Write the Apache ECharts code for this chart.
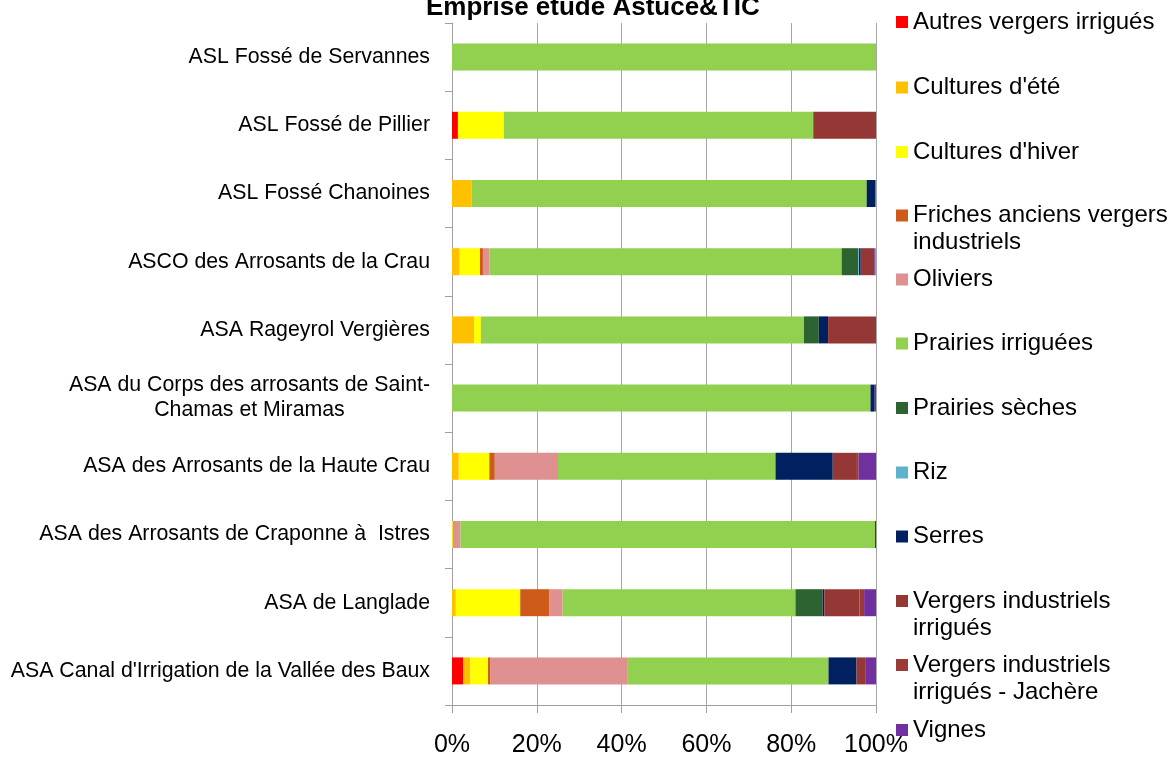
<!DOCTYPE html>
<html lang="fr">

<head>
    <meta charset="UTF-8">
    <title>Emprise étude Astuce&amp;TIC</title>
    <style>
        html, body { margin: 0; padding: 0; background: #fff; }
    </style>
</head>

<body>
    <div id="main" style="width:1174px;height:760px;"></div>
    <script src="https://cdn.jsdelivr.net/npm/echarts@6/dist/echarts.min.js"></script>
    <script>
        // categories, top -> bottom
        var categories = [
            "ASL Fossé de Servannes",
            "ASL Fossé de Pillier",
            "ASL Fossé Chanoines",
            "ASCO des Arrosants de la Crau",
            "ASA Rageyrol Vergières",
            "ASA du Corps des arrosants de Saint-\nChamas et Miramas",
            "ASA des Arrosants de la Haute Crau",
            "ASA des Arrosants de Craponne à  Istres",
            "ASA de Langlade",
            "ASA Canal d'Irrigation de la Vallée des Baux"
        ];

        var seriesNames = [
            "Autres vergers irrigués",
            "Cultures d'été",
            "Cultures d'hiver",
            "Friches anciens vergers industriels",
            "Oliviers",
            "Prairies irriguées",
            "Prairies sèches",
            "Riz",
            "Serres",
            "Vergers industriels irrigués",
            "Vergers industriels irrigués - Jachère",
            "Vignes"
        ];

        // parts en % (lecture du graphique)
        var autresVergers   = [0, 1.4, 0, 0, 0, 0, 0, 0, 0, 2.6];
        var culturesEte     = [0, 0, 4.6, 1.8, 5.2, 0, 1.6, 0, 0.9, 1.7];
        var culturesHiver   = [0, 10.8, 0, 4.8, 1.6, 0, 7.2, 0.2, 15.2, 4.2];
        var friches         = [0, 0, 0, 0.7, 0, 0, 1.3, 0, 6.8, 0.6];
        var oliviers        = [0, 0, 0, 1.5, 0, 0, 14.9, 1.8, 3.2, 32.2];
        var prairiesIrr     = [100, 73.0, 93.2, 83.1, 76.2, 98.7, 51.3, 97.8, 54.9, 47.5];
        var prairiesSeches  = [0, 0, 0, 3.9, 3.5, 0, 0, 0, 6.4, 0];
        var riz             = [0, 0, 0, 0.2, 0, 0, 0, 0, 0, 0];
        var serres          = [0, 0, 2.1, 0.4, 2.2, 1.0, 13.5, 0.2, 0.4, 6.6];
        var vergersIrr      = [0, 14.8, 0, 3.2, 11.3, 0, 5.7, 0, 8.3, 2.2];
        var vergersJachere  = [0, 0, 0, 0, 0, 0, 0.4, 0, 1.1, 0];
        var vignes          = [0, 0, 0, 0.3, 0, 0.3, 4.1, 0, 2.8, 2.4];

        var xTicks = [0, 20, 40, 60, 80, 100];

        var allData = [autresVergers, culturesEte, culturesHiver, friches, oliviers, prairiesIrr,
            prairiesSeches, riz, serres, vergersIrr, vergersJachere, vignes];

        var colors = ['#FF0000', '#FFC000', '#FFFF00', '#CF5B1B', '#DE9190', '#92D050',
            '#2D6330', '#5DB3CD', '#002060', '#953735', '#9C3A38', '#7030A0'];

        // legend text with the line breaks of the original
        // (leading empty line keeps the icon level with the first line)
        var legendText = {
            "Friches anciens vergers industriels": "\nFriches anciens vergers\nindustriels",
            "Vergers industriels irrigués": "\nVergers industriels\nirrigués",
            "Vergers industriels irrigués - Jachère": "\nVergers industriels\nirrigués - Jachère"
        };
        // icon centre (y) of each legend entry
        var legendY = [22, 87.5, 152, 215.5, 279.5, 343.5, 408, 472.5, 536.5, 601, 665, 730];

        var font = '"Liberation Sans", Arial, sans-serif';
        var LH = 27;

        var series = [];
        var legends = [];
        for (var i = 0; i < seriesNames.length; i++) {
            series.push({
                name: seriesNames[i],
                type: 'bar',
                stack: 'total',
                barWidth: 27,
                itemStyle: { color: colors[i] },
                emphasis: { disabled: true },
                data: allData[i]
            });
            var twoLines = !!legendText[seriesNames[i]];
            legends.push({
                data: [seriesNames[i]],
                orient: 'vertical',
                left: 896,
                top: legendY[i] - (twoLines ? 1.5 * LH : 0.5 * LH),
                padding: 0,
                itemWidth: 12,
                itemHeight: 12,
                itemGap: 5,
                icon: 'rect',
                selectedMode: false,
                formatter: function (name) {
                    return legendText[name] || name;
                },
                textStyle: {
                    fontFamily: font,
                    fontSize: 24,
                    color: '#000',
                    lineHeight: LH
                }
            });
        }

        var myChart = echarts.init(document.getElementById('main'));
        var option = {
            animation: false,
            color: colors,
            title: {
                text: 'Emprise étude Astuce&TIC',
                left: 426,
                top: -5,
                padding: 0,
                textStyle: {
                    fontFamily: font,
                    fontSize: 26,
                    fontWeight: 'bold',
                    color: '#000'
                }
            },
            legend: legends,
            grid: {
                left: 452,
                right: 298,
                top: 23,
                bottom: 55,
                containLabel: false
            },
            xAxis: {
                type: 'value',
                min: xTicks[0],
                max: xTicks[xTicks.length - 1],
                interval: 20,
                axisLine: { show: true, lineStyle: { color: '#A0A0A0', width: 1 } },
                axisTick: { show: true, length: 8, lineStyle: { color: '#A0A0A0' } },
                splitLine: { show: true, lineStyle: { color: '#A6A6A6', width: 1 } },
                axisLabel: {
                    formatter: '{value}%',
                    margin: 28,
                    fontFamily: font,
                    fontSize: 25,
                    color: '#000'
                }
            },
            yAxis: {
                type: 'category',
                inverse: true,
                data: categories,
                axisLine: { show: true, lineStyle: { color: '#A0A0A0', width: 1 } },
                axisTick: { show: true, length: 7, lineStyle: { color: '#A0A0A0' } },
                axisLabel: {
                    margin: 22,
                    fontFamily: font,
                    fontSize: 21.3,
                    color: '#000',
                    formatter: function (value) {
                        return value.split('\n').map(function (s) {
                            return '{c|' + s + '}';
                        }).join('\n');
                    },
                    rich: {
                        c: {
                            fontFamily: font,
                            fontSize: 21.3,
                            lineHeight: 25,
                            color: '#000',
                            align: 'center'
                        }
                    }
                }
            },
            series: series
        };
        myChart.setOption(option);
    </script>
</body>

</html>
